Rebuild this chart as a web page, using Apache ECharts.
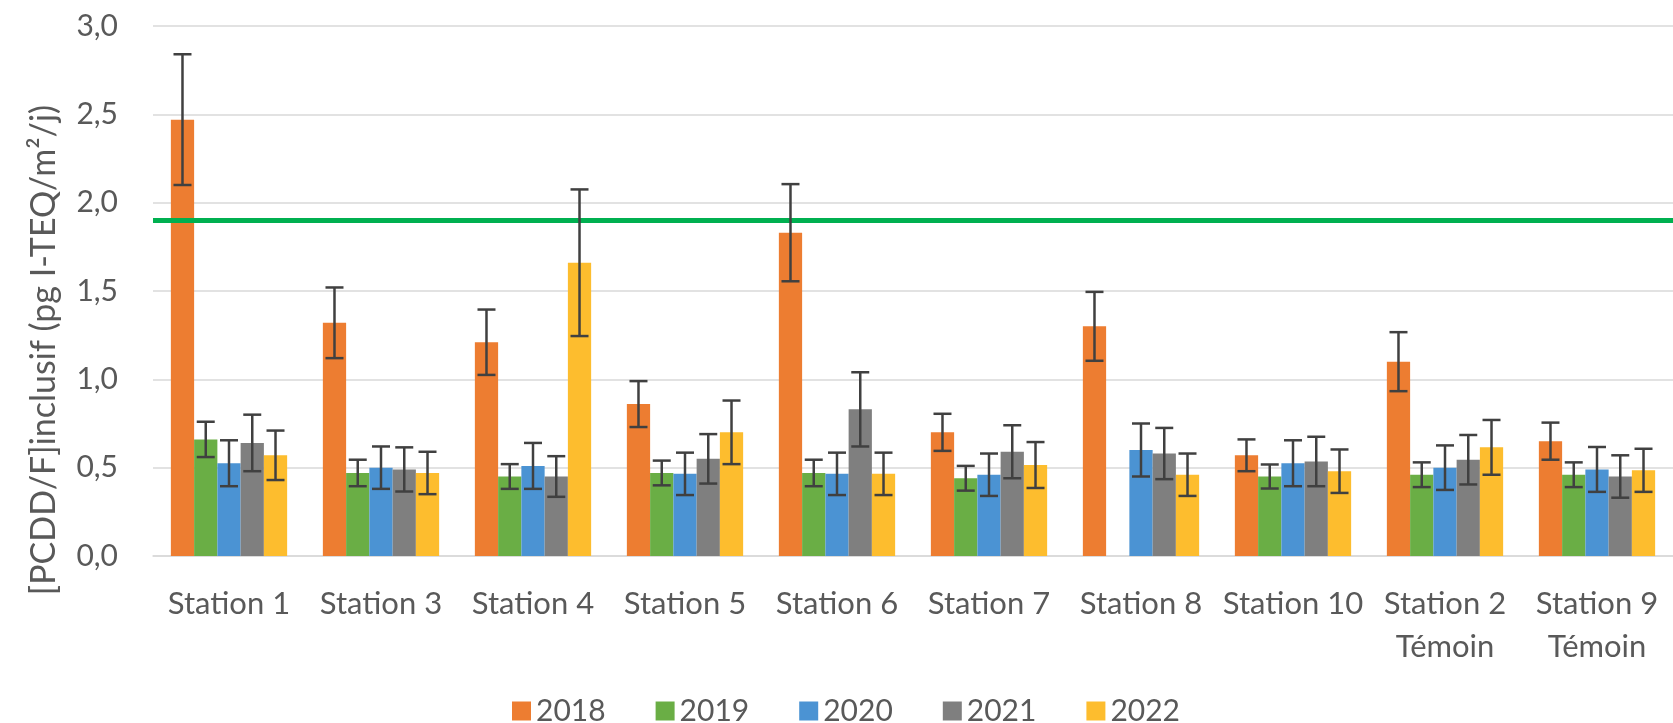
<!DOCTYPE html>
<html>
<head>
	<meta charset="UTF-8">
	<title></title>
	<style>
		html, body { margin: 0; padding: 0; background: #fff; }
		#chart { width: 1673px; height: 723px; }
	</style>
	<script src="https://cdn.jsdelivr.net/npm/echarts@6/dist/echarts.min.js"></script>
</head>
<body>
	<div id="chart"></div>
	<script>
		var categories = ['Station 1', 'Station 3', 'Station 4', 'Station 5', 'Station 6', 'Station 7', 'Station 8', 'Station 10', 'Station 2\nTémoin', 'Station 9\nTémoin'];
		var years = ['2018', '2019', '2020', '2021', '2022'];
		var colors = ['#ED7D31', '#6AAE45', '#4B93D3', '#7F7F7F', '#FDBD2E'];

		var v2018 = [2.47, 1.32, 1.21, 0.86, 1.83, 0.70, 1.30, 0.57, 1.10, 0.65];
		var e2018 = [0.37, 0.20, 0.185, 0.13, 0.275, 0.105, 0.195, 0.09, 0.167, 0.105];
		var v2019 = [0.66, 0.47, 0.45, 0.47, 0.47, 0.44, null, 0.45, 0.46, 0.46];
		var e2019 = [0.10, 0.075, 0.07, 0.07, 0.075, 0.07, null, 0.068, 0.07, 0.07];
		var v2020 = [0.525, 0.50, 0.51, 0.465, 0.465, 0.46, 0.60, 0.525, 0.50, 0.49];
		var e2020 = [0.13, 0.12, 0.13, 0.12, 0.12, 0.12, 0.15, 0.13, 0.126, 0.127];
		var v2021 = [0.64, 0.49, 0.45, 0.55, 0.83, 0.59, 0.58, 0.535, 0.545, 0.45];
		var e2021 = [0.16, 0.125, 0.115, 0.14, 0.21, 0.15, 0.145, 0.14, 0.14, 0.12];
		var v2022 = [0.57, 0.47, 1.66, 0.70, 0.465, 0.515, 0.46, 0.48, 0.615, 0.485];
		var e2022 = [0.14, 0.12, 0.415, 0.18, 0.12, 0.13, 0.12, 0.123, 0.155, 0.122];
		var threshold = 1.9;

		var values = [v2018, v2019, v2020, v2021, v2022];
		var errors = [e2018, e2019, e2020, e2021, e2022];

		var font = 'Lato';
		var textColor = '#595959';
		var catGap = 0.235;

		var series = [];
		years.forEach(function (y, k) {
			var s = {
				type: 'bar',
				name: y,
				data: values[k],
				barGap: '0%',
				barCategoryGap: (catGap * 100) + '%',
				itemStyle: { color: colors[k] },
				z: 2
			};
			if (k === 0) {
				// seuil
				s.markLine = {
					silent: true,
					symbol: 'none',
					label: { show: false },
					lineStyle: { color: '#00B050', width: 5, type: 'solid' },
					data: [{ yAxis: threshold }],
					z: 4
				};
			}
			series.push(s);
		});

		// barres d'erreur
		years.forEach(function (y, k) {
			var data = [];
			values[k].forEach(function (v, i) {
				if (v != null) data.push([i, v, errors[k][i]]);
			});
			series.push({
				type: 'custom',
				name: 'err' + y,
				data: data,
				z: 5,
				silent: true,
				encode: { x: 0, y: 1 },
				renderItem: function (params, api) {
					var i = api.value(0), v = api.value(1), e = api.value(2);
					var band = api.size([1, 0])[0];
					var bw = band * (1 - catGap) / years.length;
					var cx = api.coord([i, v])[0] + (k - (years.length - 1) / 2) * bw;
					var top = api.coord([i, v + e])[1];
					var bot = api.coord([i, v - e])[1];
					var half = 9;
					var st = { stroke: '#404040', lineWidth: 2.5 };
					return {
						type: 'group',
						children: [
							{ type: 'line', shape: { x1: cx, y1: top, x2: cx, y2: bot }, style: st },
							{ type: 'line', shape: { x1: cx - half, y1: top, x2: cx + half, y2: top }, style: st },
							{ type: 'line', shape: { x1: cx - half, y1: bot, x2: cx + half, y2: bot }, style: st }
						]
					};
				}
			});
		});

		var mychart = echarts.init(document.getElementById('chart'));
		mychart.setOption({
			animation: false,
			textStyle: { fontFamily: font },
			grid: {
				left: 153,
				right: -8,
				top: 26,
				bottom: 167
			},
			legend: {
				data: years,
				top: 691,
				left: 507,
				icon: 'rect',
				itemWidth: 19,
				itemHeight: 19,
				itemGap: 50,
				textStyle: { fontFamily: font, fontSize: 30, color: textColor }
			},
			xAxis: {
				type: 'category',
				data: categories,
				axisTick: { show: false },
				axisLine: { lineStyle: { color: '#D9D9D9', width: 1.5 } },
				axisLabel: {
					interval: 0,
					margin: 26,
					fontFamily: font,
					fontSize: 31,
					lineHeight: 43,
					color: textColor
				}
			},
			yAxis: {
				type: 'value',
				min: 0,
				max: 3,
				interval: 0.5,
				name: '[PCDD/F]inclusif (pg I-TEQ/m²/j)',
				nameLocation: 'middle',
				nameGap: 92,
				nameTextStyle: { fontFamily: font, fontSize: 34, color: textColor, padding: [0, 118, 0, 0] },
				axisLine: { show: false },
				axisTick: { show: false },
				axisLabel: {
					margin: 35,
					fontFamily: font,
					fontSize: 30,
					color: textColor,
					formatter: function (v) { return v.toFixed(1).replace('.', ','); }
				},
				splitLine: { lineStyle: { color: '#D9D9D9', width: 1.5 } }
			},
			series: series
		});
	</script>
</body>
</html>
